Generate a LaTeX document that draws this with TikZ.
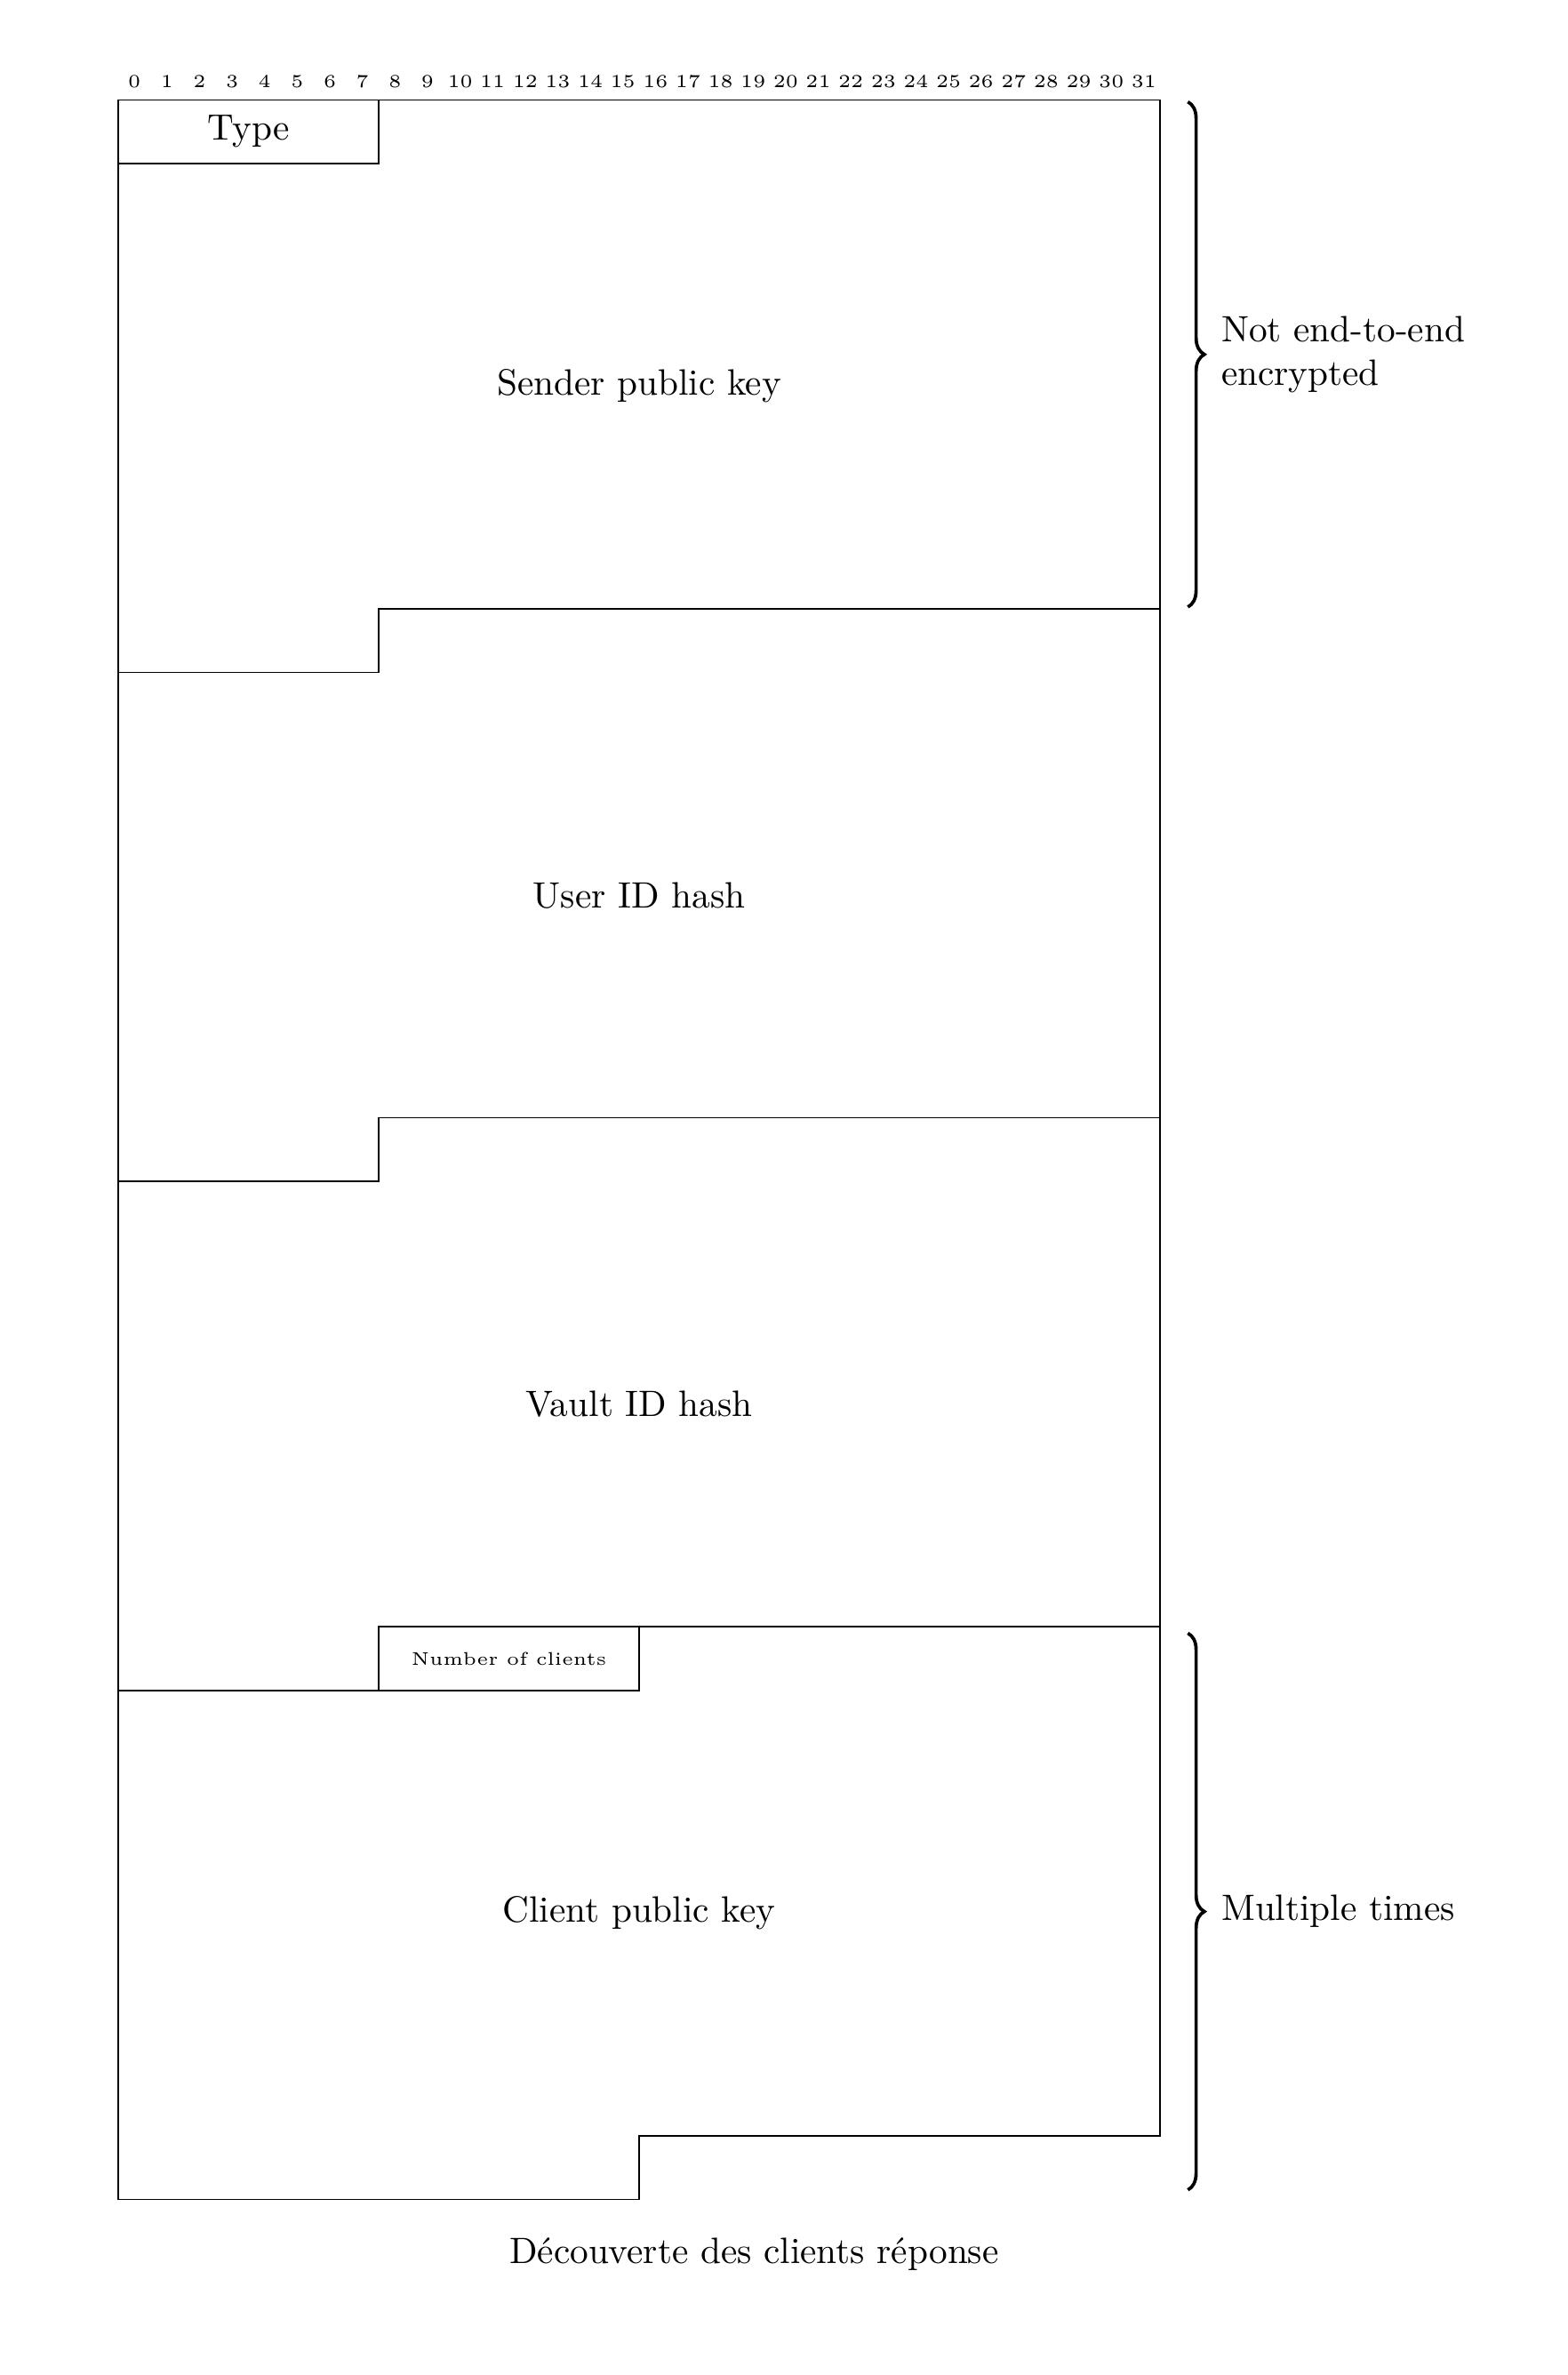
\documentclass[tikz,border=0pt]{standalone}
\usepackage{tikz}
\usetikzlibrary{decorations.pathreplacing,calc}

\begin{document}
\begin{tikzpicture}[x=8.88pt,y=-17.35pt,font=\normalsize,
    bitnum/.style={font=\tiny,inner sep=0pt},
    fieldlbl/.style={inner sep=1pt},
    brc/.style={decorate,decoration={brace,amplitude=4.5pt},line width=0.9pt}]
  \useasboundingbox (-3.628,-1.571) rectangle (44.51,35.76);
  % bit numbers
  \foreach \i in {0,...,31}
    \node[bitnum] (b\i) at (\i+0.5,-0.29) {\i};
  % outline of the message
  \draw (0,0) -- (32,0) -- (32,32) -- (16,32) -- (16,33) -- (0,33) -- cycle;
  \draw (8,0) -- (8,1) -- (0,1);
  \foreach \r in {8,16,24}{
    \draw (0,\r+1) -- (8,\r+1) -- (8,\r) -- (32,\r);
  }
  \draw (8,25) -- (16,25) -- (16,24);
  % field labels
  \node[fieldlbl] (type) at (4,0.5) {Type};
  \node[fieldlbl] (sender) at (16,4.5) {Sender public key};
  \node[fieldlbl] (user) at (16,12.5) {User ID hash};
  \node[fieldlbl] (vault) at (16,20.5) {Vault ID hash};
  \node[fieldlbl,font=\tiny] (nclients) at (12,24.5) {Number of clients};
  \node[fieldlbl] (client) at (16,28.5) {Client public key};
  % braces on the right
  \coordinate (clearTop) at (32.85,0.03);
  \coordinate (clearBot) at (32.85,7.97);
  \coordinate (multTop) at (32.85,24.1);
  \coordinate (multBot) at (32.85,32.85);
  \draw[brc] (clearTop) -- (clearBot);
  \draw[brc] (multTop) -- (multBot);
  \node[anchor=west,align=left,inner sep=0pt] (clear) at (33.86,4) {Not end-to-end\\encrypted};
  \node[anchor=west,inner sep=0pt] (mult) at (33.86,28.47) {Multiple times};
  % caption
  \node (caption) at (19.53,33.86) {Découverte des clients réponse};
\end{tikzpicture}
\end{document}
